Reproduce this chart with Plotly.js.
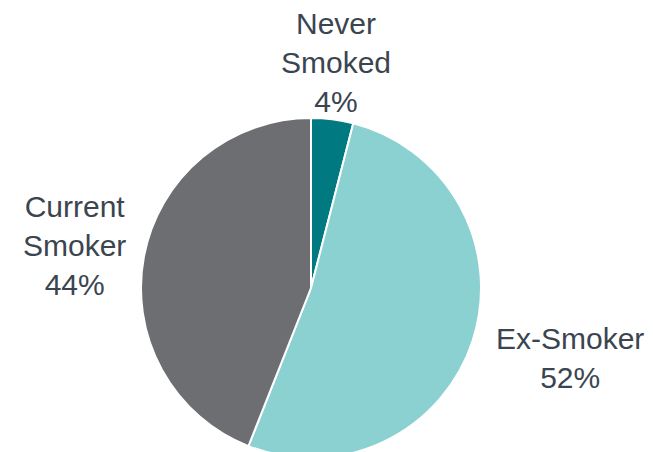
<!DOCTYPE html>
<html><head><meta charset="utf-8">
<script src="https://cdn.plot.ly/plotly-3.0.1.min.js"></script>
<style>html,body{margin:0;padding:0;overflow:hidden;background:#fff}</style>
</head><body><div id="chart"></div>
<script>
const categories = ["Never Smoked", "Ex-Smoker", "Current Smoker"];
const labelLines = ["Never<br>Smoked", "Ex-Smoker", "Current<br>Smoker"];
const values = [4, 52, 44];
const colors = ["#007A80", "#8CD1D1", "#6D6E71"];
const labelPos = [[336, 62], [570, 358], [74, 245]];

const W = 653, H = 460;
const total = values.reduce((a, b) => a + b, 0);
const annotations = categories.map((c, i) => ({
  xref: "paper", yref: "paper",
  x: labelPos[i][0] / W, y: 1 - labelPos[i][1] / H,
  xanchor: "center", yanchor: "middle",
  text: labelLines[i] + "<br>" + Math.round(values[i] / total * 100) + "%",
  showarrow: false, align: "center",
  font: {family: "Liberation Sans, Arial, sans-serif", size: 30, color: "#3B4550"}
}));

Plotly.newPlot("chart", [{
  type: "pie", labels: categories, values: values, sort: false,
  direction: "clockwise", rotation: 0, textinfo: "none", hoverinfo: "label+percent",
  marker: {colors: colors, line: {color: "#ffffff", width: 2}},
  domain: {x: [141 / W, 481 / W], y: [2 / H, 1 - 118 / H]}
}], {
  width: W, height: H, margin: {l: 0, r: 0, t: 0, b: 0},
  showlegend: false, paper_bgcolor: "#ffffff", annotations: annotations
}, {staticPlot: true});
</script></body></html>
